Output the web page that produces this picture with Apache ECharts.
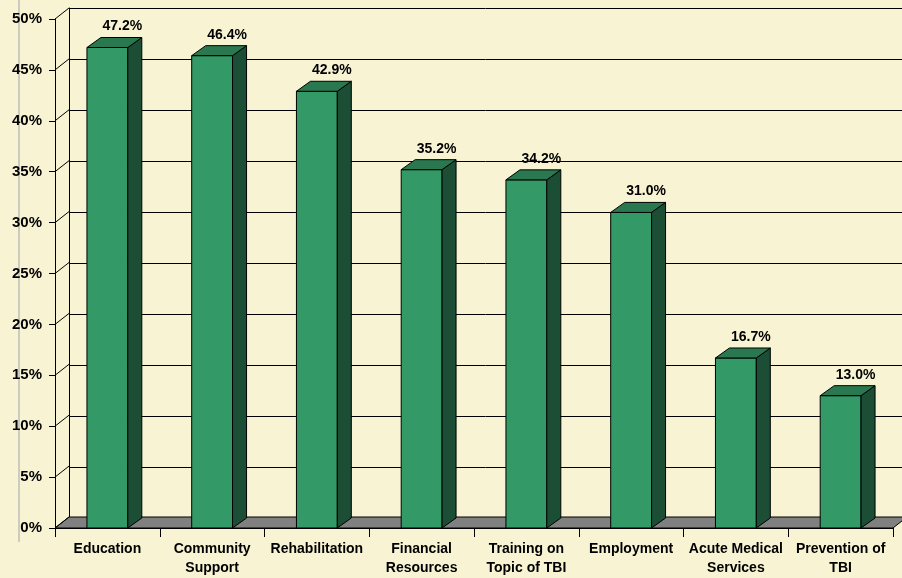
<!DOCTYPE html>
<html>
<head>
<meta charset="utf-8">
<script src="https://cdn.jsdelivr.net/npm/echarts@6/dist/echarts.min.js"></script>
<style>
  html, body { margin: 0; padding: 0; background: #F8F4D3; }
  #chart { width: 902px; height: 578px; }
</style>
</head>
<body>
<div id="chart"></div>
<script>
var categories = ['Education', 'Community\nSupport', 'Rehabilitation', 'Financial\nResources',
  'Training on\nTopic of TBI', 'Employment', 'Acute Medical\nServices', 'Prevention of\nTBI'];
var values = [47.2, 46.4, 42.9, 35.2, 34.2, 31.0, 16.7, 13.0];
var yTicks = [0, 5, 10, 15, 20, 25, 30, 35, 40, 45, 50];

// depth offsets of the 3d look
var WALL_DX = 14, WALL_DY = -11;
var BAR_DX = 14, BAR_DY = -10;
var FONT = 'Arial, "Liberation Sans", sans-serif';

var chart = echarts.init(document.getElementById('chart'));

chart.setOption({
  backgroundColor: '#F8F4D3',
  animation: false,
  graphic: [{
    type: 'line',
    shape: { x1: 19, y1: 0, x2: 19, y2: 542 },
    style: { stroke: '#cdcbc0', lineWidth: 2 }
  }],
  grid: [
    { left: 55, right: 9, top: 19, height: 510 },
    { left: 55 + WALL_DX, width: 838, top: 19 + WALL_DY, height: 510 }
  ],
  xAxis: [{
    gridIndex: 0,
    type: 'category',
    data: categories,
    boundaryGap: true,
    axisLine: { lineStyle: { color: '#000', width: 1 } },
    axisTick: { show: true, interval: 0, length: 9, lineStyle: { color: '#000' } },
    axisLabel: {
      interval: 0, margin: 12, color: '#000', fontWeight: 'bold',
      fontSize: 14, fontFamily: FONT, lineHeight: 19
    }
  }, {
    gridIndex: 1,
    type: 'category',
    data: categories,
    show: false
  }],
  yAxis: [{
    gridIndex: 0,
    type: 'value',
    min: 0, max: 50, interval: 5,
    axisLine: { show: true, lineStyle: { color: '#000', width: 1 } },
    axisTick: { show: true, length: 6, lineStyle: { color: '#000' } },
    splitLine: { show: false },
    axisLabel: {
      formatter: '{value}%', margin: 13, color: '#000', fontWeight: 'bold',
      fontSize: 15, fontFamily: FONT
    }
  }, {
    gridIndex: 1,
    type: 'value',
    min: 0, max: 50, interval: 5,
    axisLine: { show: true, lineStyle: { color: '#000', width: 1 } },
    axisTick: { show: false },
    axisLabel: { show: false },
    splitLine: { show: true, lineStyle: { color: '#000', width: 1 } }
  }],
  series: [{
    // gray floor
    type: 'custom',
    xAxisIndex: 0, yAxisIndex: 0,
    z: 1,
    silent: true,
    data: [[0, 0]],
    renderItem: function (params, api) {
      var cs = params.coordSys;
      var y0 = api.coord([0, 0])[1];
      var xl = cs.x, xr = cs.x + cs.width;
      return {
        type: 'polygon',
        shape: { points: [[xl, y0], [xr, y0], [xr + WALL_DX, y0 + WALL_DY], [xl + WALL_DX, y0 + WALL_DY]] },
        style: { fill: '#808080', stroke: '#000', lineWidth: 1 }
      };
    }
  }, {
    // diagonal connectors from front axis ticks to the back wall
    type: 'custom',
    xAxisIndex: 0, yAxisIndex: 0,
    z: 2,
    silent: true,
    data: yTicks.map(function (t) { return [0, t]; }),
    renderItem: function (params, api) {
      var x = params.coordSys.x;
      var y = api.coord([0, api.value(1)])[1];
      return {
        type: 'line',
        shape: { x1: x, y1: y, x2: x + WALL_DX, y2: y + WALL_DY },
        style: { stroke: '#000', lineWidth: 1 }
      };
    }
  }, {
    // 3d bars
    type: 'custom',
    xAxisIndex: 0, yAxisIndex: 0,
    z: 5,
    data: values.map(function (v, i) { return [i, v]; }),
    encode: { x: 0, y: 1 },
    renderItem: function (params, api) {
      var i = api.value(0), v = api.value(1);
      var base = api.coord([i, 0]);
      var top = api.coord([i, v]);
      var w = api.size([1, 0])[0] * 0.39;
      var x0 = base[0] - w / 2, x1 = base[0] + w / 2;
      var y0 = base[1], y1 = top[1];
      return {
        type: 'group',
        children: [{
          type: 'rect',
          shape: { x: x0, y: y1, width: w, height: y0 - y1 },
          style: { fill: '#339966', stroke: '#000', lineWidth: 1 }
        }, {
          type: 'polygon',
          shape: { points: [[x1, y0], [x1 + BAR_DX, y0 + BAR_DY], [x1 + BAR_DX, y1 + BAR_DY], [x1, y1]] },
          style: { fill: '#1C4D35', stroke: '#000', lineWidth: 1 }
        }, {
          type: 'polygon',
          shape: { points: [[x0, y1], [x0 + BAR_DX, y1 + BAR_DY], [x1 + BAR_DX, y1 + BAR_DY], [x1, y1]] },
          style: { fill: '#2A7850', stroke: '#000', lineWidth: 1 }
        }, {
          type: 'text',
          style: {
            text: v.toFixed(1) + '%',
            x: base[0] + 15, y: y1 - 21,
            align: 'center', verticalAlign: 'middle',
            fill: '#000', fontWeight: 'bold', fontSize: 14, fontFamily: FONT
          }
        }]
      };
    }
  }]
});
</script>
</body>
</html>
